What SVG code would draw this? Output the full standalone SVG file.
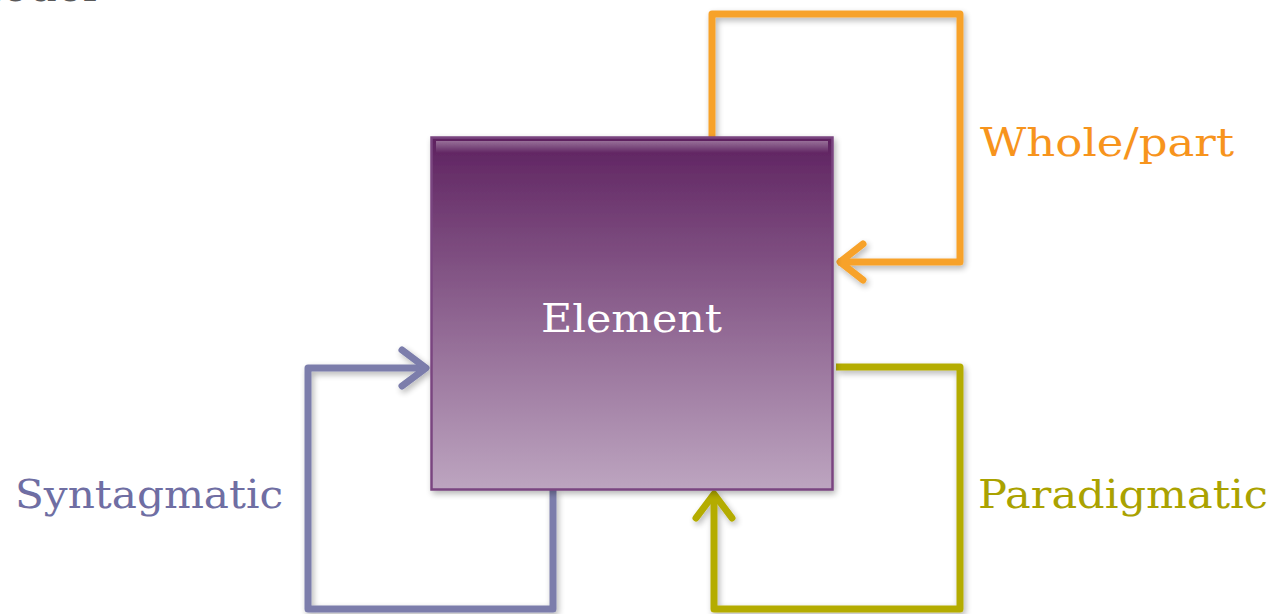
<svg xmlns="http://www.w3.org/2000/svg" width="1274" height="614" viewBox="0 0 1274 614">
<style>
.lbl{font-family:"DejaVu Serif","Liberation Serif",serif;font-size:40px}
.conn{fill:none;stroke-width:7;stroke-linejoin:round;stroke-linecap:butt}
.head{fill:none;stroke-width:7;stroke-linecap:round;stroke-linejoin:round}
</style>
<defs>
<linearGradient id="g" x1="0" y1="0" x2="0" y2="1">
<stop offset="0" stop-color="#5e2260"/>
<stop offset="1" stop-color="#bda5c0"/>
</linearGradient>
<linearGradient id="hl" x1="0" y1="0" x2="0" y2="1">
<stop offset="0" stop-color="#ffffff" stop-opacity="0.35"/>
<stop offset="1" stop-color="#ffffff" stop-opacity="0"/>
</linearGradient>
<filter id="sh" x="-10%" y="-10%" width="120%" height="120%">
<feGaussianBlur in="SourceAlpha" stdDeviation="3"/>
<feOffset dx="2" dy="3" result="b"/>
<feComponentTransfer><feFuncA type="linear" slope="0.3"/></feComponentTransfer>
<feMerge><feMergeNode/><feMergeNode in="SourceGraphic"/></feMerge>
</filter>
</defs>
<rect width="1274" height="614" fill="#ffffff"/>
<text x="97" y="1" text-anchor="end" style="font-family:'DejaVu Serif','Liberation Serif',serif;font-size:44px;fill:#595959">Model</text>
<g id="connectors" filter="url(#sh)">
<g id="wholepart" stroke="#f7a22a">
<polyline class="conn" points="712,137 712,14 960,14 960,262 838,262"/>
<polyline class="head" points="863,244 840,262 863,280"/>
</g>
<g id="syntagmatic" stroke="#7b7dab">
<polyline class="conn" points="553,490 553,609 308,609 308,368 426,368"/>
<polyline class="head" points="402,350 426,368 402,386"/>
</g>
<g id="paradigmatic" stroke="#b4ac00">
<polyline class="conn" points="836,367 960,367 960,609 714,609 714,494"/>
<polyline class="head" points="696,518 714,494 732,518"/>
</g>
</g>
<g id="element">
<rect x="431.5" y="137.5" width="401" height="352" fill="url(#g)" stroke="#7a4580" stroke-width="2.5" filter="url(#sh)"/>
<rect x="436" y="141" width="392" height="12" fill="url(#hl)"/>
<text x="541" y="332" class="lbl" fill="#ffffff" textLength="181" lengthAdjust="spacingAndGlyphs">Element</text>
</g>
<g id="labels">
<text x="980" y="156" class="lbl" fill="#f7941d" textLength="254" lengthAdjust="spacingAndGlyphs">Whole/part</text>
<text x="15" y="508" class="lbl" fill="#6f6ea3" textLength="268" lengthAdjust="spacingAndGlyphs">Syntagmatic</text>
<text x="978" y="508" class="lbl" fill="#aaa200" textLength="290" lengthAdjust="spacingAndGlyphs">Paradigmatic</text>
</g>
</svg>
